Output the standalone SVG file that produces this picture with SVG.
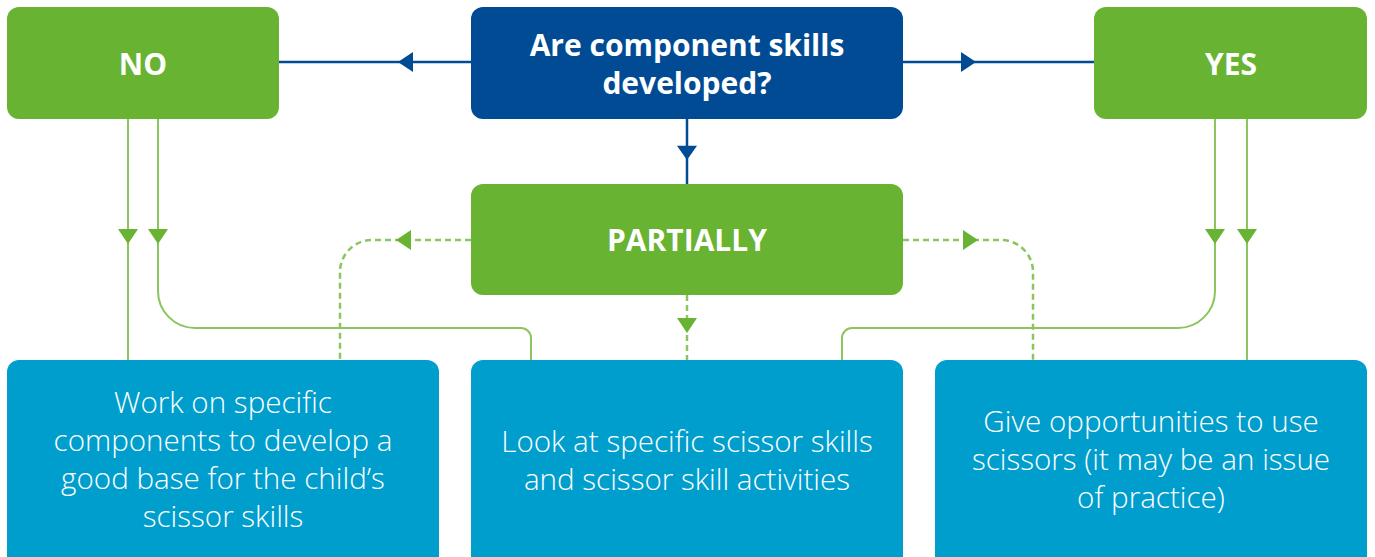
<svg xmlns="http://www.w3.org/2000/svg" xmlns:xlink="http://www.w3.org/1999/xlink" width="1375" height="557" viewBox="0 0 1375 557">
<style>
.green{fill:#69b332}
.navy{fill:#004b93}
.blue{fill:#009ecd}
.title{font-family:"Open Sans","Noto Sans",sans-serif;font-weight:700;font-size:30px;fill:#ffffff;text-anchor:middle}
.body{font-family:"Open Sans","Noto Sans",sans-serif;font-weight:300;font-size:29.6px;fill:#ffffff;text-anchor:middle}
.bl{fill:none;stroke:#004b93;stroke-width:2.5}
.gl{fill:none;stroke:#8cc560;stroke-width:2}
.dl{fill:none;stroke:#8cc560;stroke-width:2.5;stroke-dasharray:6 4}
.ahb{fill:#004b93}
.ahg{fill:#69b332}
</style>
<defs>
<path id="ah" d="M0,0 L-15,-10 L-15,10 Z"/>
</defs>
<g id="connectors">
<path class="bl" d="M279,62 H471"/>
<path class="bl" d="M903,62 H1094"/>
<path class="bl" d="M687,119 V184"/>
<use href="#ah" class="ahb" transform="translate(398,62) rotate(180)"/>
<use href="#ah" class="ahb" transform="translate(976,62)"/>
<use href="#ah" class="ahb" transform="translate(687,160) rotate(90) scale(0.95,1)"/>
<path class="gl" d="M128,119 V360"/>
<path class="gl" d="M158,119 V291 A37,37 0 0 0 195,328 H521 A10,10 0 0 1 531,338 V360"/>
<path class="gl" d="M1247,119 V360"/>
<path class="gl" d="M1215,119 V291 A37,37 0 0 1 1178,328 H852 A10,10 0 0 0 842,338 V360"/>
<path class="dl" d="M471,240 H372 A32,32 0 0 0 340,272 V360"/>
<path class="dl" d="M903,240 H1001 A32,32 0 0 1 1033,272 V360"/>
<path class="dl" d="M687,295 V360"/>
<use href="#ah" class="ahg" transform="translate(128,244) rotate(90)"/>
<use href="#ah" class="ahg" transform="translate(158,244) rotate(90)"/>
<use href="#ah" class="ahg" transform="translate(1215,244) rotate(90)"/>
<use href="#ah" class="ahg" transform="translate(1247,244) rotate(90)"/>
<use href="#ah" class="ahg" transform="translate(396,240) rotate(180)"/>
<use href="#ah" class="ahg" transform="translate(978,240)"/>
<use href="#ah" class="ahg" transform="translate(687,333) rotate(90)"/>
</g>
<g id="question">
<rect class="navy" x="471" y="7" width="432" height="112" rx="12"/>
<text class="title" x="687" y="56">Are component skills</text>
<text class="title" x="687" y="94">developed?</text>
</g>
<g id="no">
<rect class="green" x="7" y="7" width="272" height="112" rx="12"/>
<text class="title" x="143" y="75">NO</text>
</g>
<g id="yes">
<rect class="green" x="1094" y="7" width="273" height="112" rx="12"/>
<text class="title" x="1231" y="75">YES</text>
</g>
<g id="partially">
<rect class="green" x="471" y="184" width="432" height="111" rx="12"/>
<text class="title" x="687" y="251">PARTIALLY</text>
</g>
<g id="work">
<rect class="blue" x="7" y="360" width="432" height="210" rx="12"/>
<text class="body" x="223" y="413">Work on specific</text>
<text class="body" x="223" y="451">components to develop a</text>
<text class="body" x="223" y="489">good base for the child’s</text>
<text class="body" x="223" y="527">scissor skills</text>
</g>
<g id="look">
<rect class="blue" x="471" y="360" width="432" height="210" rx="12"/>
<text class="body" x="687" y="452">Look at specific scissor skills</text>
<text class="body" x="687" y="490">and scissor skill activities</text>
</g>
<g id="give">
<rect class="blue" x="935" y="360" width="432" height="210" rx="12"/>
<text class="body" x="1151" y="432">Give opportunities to use</text>
<text class="body" x="1151" y="470">scissors (it may be an issue</text>
<text class="body" x="1151" y="508">of practice)</text>
</g>
</svg>
